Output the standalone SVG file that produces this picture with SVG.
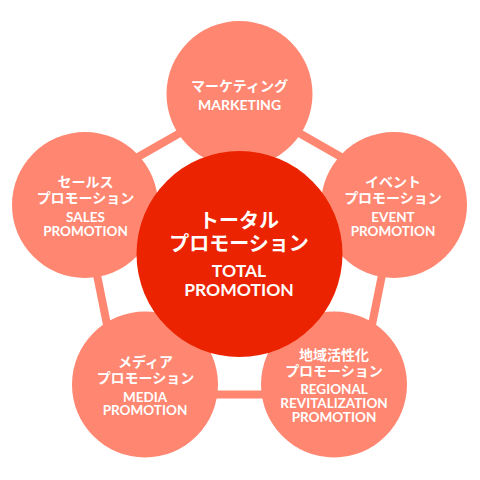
<svg xmlns="http://www.w3.org/2000/svg" width="480" height="480" viewBox="0 0 480 480">
<style>
.outer{fill:#FF8670}
.main{fill:#EC2300}
.jp{font-family:"Noto Sans CJK JP","Noto Sans",sans-serif;font-weight:700;fill:#fff;text-anchor:middle}
.en{font-family:Lato,"Open Sans",sans-serif;font-weight:700;fill:#fff;text-anchor:middle}
.s14{font-size:14px}
.s13{font-size:13.5px}
</style>
<rect width="480" height="480" fill="#fff"/>
<g id="connectors">
<polygon points="239.5,99 399,190 358,394.5 121,394.5 80,190" fill="none" stroke="#FF8670" stroke-width="8" stroke-linejoin="miter"/>
</g>
<g id="marketing">
<circle class="outer" cx="239.5" cy="94" r="73"/>
<text class="jp s14" x="239.5" y="91">マーケティング</text>
<text class="en s14" x="239.5" y="110">MARKETING</text>
</g>
<g id="sales">
<circle class="outer" cx="85" cy="205" r="73"/>
<text class="jp s14" x="85.5" y="187">セールス</text>
<text class="jp s14" x="85.5" y="203">プロモーション</text>
<text class="en s13" x="85.5" y="222">SALES</text>
<text class="en s13" x="85.5" y="236">PROMOTION</text>
</g>
<g id="event">
<circle class="outer" cx="394" cy="205" r="73"/>
<text class="jp s14" x="393" y="187">イベント</text>
<text class="jp s14" x="393" y="203">プロモーション</text>
<text class="en s13" x="393" y="222">EVENT</text>
<text class="en s13" x="393" y="236">PROMOTION</text>
</g>
<g id="media">
<circle class="outer" cx="145" cy="384.5" r="73"/>
<text class="jp s14" x="145.5" y="367">メディア</text>
<text class="jp s14" x="145.5" y="383">プロモーション</text>
<text class="en s13" x="145" y="401.5">MEDIA</text>
<text class="en s13" x="145" y="415">PROMOTION</text>
</g>
<g id="regional">
<circle class="outer" cx="334" cy="384.5" r="73"/>
<text class="jp s14" x="334" y="360">地域活性化</text>
<text class="jp s14" x="334" y="376">プロモーション</text>
<text class="en s13" x="334" y="394">REGIONAL</text>
<text class="en s13" x="334" y="408">REVITALIZATION</text>
<text class="en s13" x="334" y="422">PROMOTION</text>
</g>
<g id="total">
<circle class="main" cx="239.5" cy="254" r="103"/>
<text class="jp" style="font-size:20px" x="239" y="228">トータル</text>
<text class="jp" style="font-size:20px" x="239" y="251">プロモーション</text>
<text class="en" style="font-size:17.5px" x="239" y="277">TOTAL</text>
<text class="en" style="font-size:17.5px" x="239" y="296">PROMOTION</text>
</g>
</svg>
